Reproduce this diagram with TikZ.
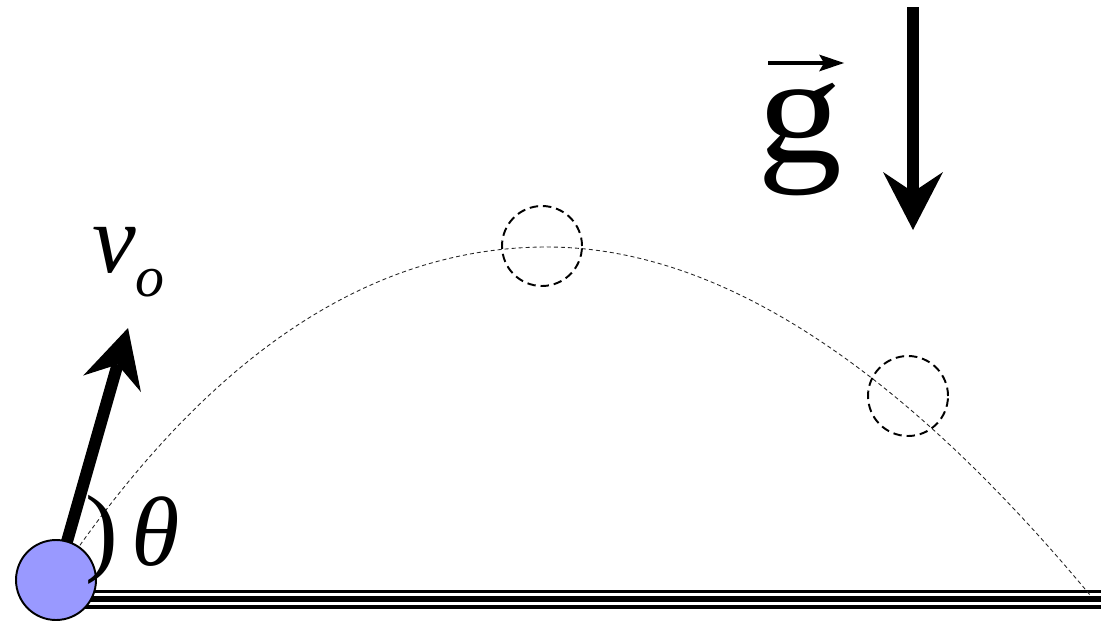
\documentclass[tikz,border=0pt]{standalone}
\usepackage{fontspec}
\setmainfont{Liberation Serif}
\usetikzlibrary{arrows.meta}
\definecolor{ballblue}{HTML}{9999FF}
\begin{document}
\begin{tikzpicture}[x=0.02cm,y=-0.02cm,
  ball/.style={circle, draw=black, line width=1.1pt, fill=ballblue, minimum size=1.6cm, inner sep=0pt},
  ghost/.style={circle, draw=black, line width=1.1pt, dash pattern=on 4.8pt off 2.8pt, minimum size=1.6cm, inner sep=0pt},
  traj/.style={draw=black!85, line width=0.5pt, dash pattern=on 2.3pt off 1.7pt},
  bigarrow/.style={line width=6.8pt, -{Stealth[length=1.16cm, width=1.2cm, inset=0.4cm, line width=0pt]}},
  vecarrow/.style={line width=2.3pt, -{Stealth[length=0.5cm, width=0.34cm, inset=0.1cm, line width=0pt]}},
  groundthin/.style={line width=1.8pt},
  groundthick/.style={line width=3.3pt},
  lbl/.style={anchor=base west, inner sep=0pt, outer sep=0pt}
]
\useasboundingbox (0,0) rectangle (1101,622);

% key coordinates
\coordinate (launch) at (56,580);
\coordinate (vtip) at (128,328);
\coordinate (apex) at (547,247);
\coordinate (gtop) at (913,7);
\coordinate (gbot) at (913,230);
\coordinate (land) at (1090,595);

% ground (three parallel lines)
\coordinate (gl1) at (56,591.5); \coordinate (gr1) at (1101,591.5);
\coordinate (gl2) at (56,599.3); \coordinate (gr2) at (1101,599.3);
\coordinate (gl3) at (56,607);   \coordinate (gr3) at (1101,607);
\draw[groundthin] (gl1) -- (gr1);
\draw[groundthick] (gl2) -- (gr2);
\draw[groundthin] (gl3) -- (gr3);

% trajectory
\draw[traj] (launch) .. controls (204,358) and (368,247) .. (apex)
                     .. controls (716,247) and (897,363) .. (land);

% ghost positions
\node[ghost] (top) at (542,246) {};
\node[ghost] (later) at (908,396) {};

% initial velocity arrow
\draw[bigarrow] (launch) -- (vtip);

% ball
\node[ball] (ballnode) at (launch) {};

% gravity arrow
\draw[bigarrow] (gtop) -- (gbot);

% labels
\node[lbl] (vlab) at (92,272) {\fontsize{56}{60}\selectfont\itshape v\raisebox{-14pt}{\fontsize{33}{36}\selectfont o}};
\node[lbl] (paren) at (85,563) {\fontsize{56}{60}\selectfont )};
\node[lbl] (theta) at (131,565) {\fontsize{56}{60}\selectfont\itshape θ};
\node[lbl] (glab) at (757,162) {\fontsize{88}{92}\selectfont\scalebox{1.1}[1]{g}};
\coordinate (gvl) at (768,63);
\coordinate (gvr) at (844,63);
\draw[vecarrow] (gvl) -- (gvr);
\end{tikzpicture}
\end{document}
